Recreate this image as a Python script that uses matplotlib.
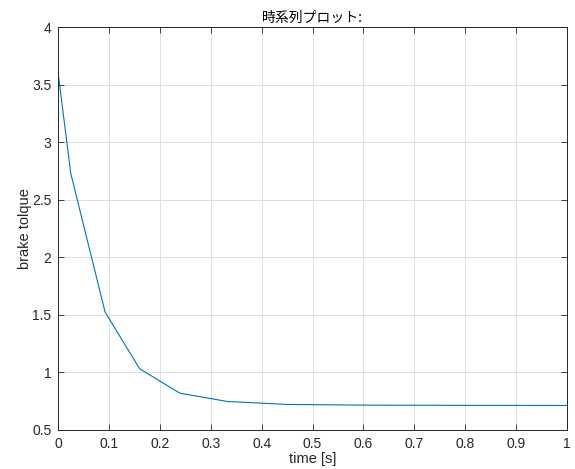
import matplotlib
matplotlib.use("Agg")
import matplotlib.pyplot as plt

# time [s] and brake torque
t = [0.0, 0.0245, 0.092, 0.16, 0.239, 0.332, 0.45, 0.6, 0.8, 1.0]
torque = [3.59, 2.73, 1.525, 1.032, 0.82, 0.748, 0.722, 0.716, 0.714, 0.713]

x_ticks = [0, 0.1, 0.2, 0.3, 0.4, 0.5, 0.6, 0.7, 0.8, 0.9, 1]
x_labels = ["0", "0.1", "0.2", "0.3", "0.4", "0.5", "0.6", "0.7", "0.8", "0.9", "1"]
y_ticks = [0.5, 1, 1.5, 2, 2.5, 3, 3.5, 4]
y_labels = ["0.5", "1", "1.5", "2", "2.5", "3", "3.5", "4"]

plt.rcParams['font.family'] = ['Liberation Sans', 'Noto Sans CJK JP', 'DejaVu Sans']
axcol = "#262626"

fig = plt.figure(figsize=(5.75, 4.69), dpi=100)
ax = fig.add_axes([0.1014, 0.0832, 0.8842, 0.8586])
ax.plot(t, torque, color="#0072BD", lw=0.8)

ax.set_xlim(0, 1)
ax.set_ylim(0.5, 4)
ax.set_xticks(x_ticks)
ax.set_xticklabels(x_labels)
ax.set_yticks(y_ticks)
ax.set_yticklabels(y_labels)
ax.tick_params(direction="in", top=True, right=True, length=4, width=0.6,
               colors=axcol, labelsize=10, pad=5)
for s in ax.spines.values():
    s.set_color(axcol)
    s.set_linewidth(0.7)
ax.grid(True, color="#e0e0e0", lw=0.7)
ax.set_axisbelow(True)

ax.set_title("時系列プロット:", fontsize=10, color="black", pad=4,
             family=['Noto Sans CJK JP', 'Liberation Sans'])
ax.set_xlabel("time [s]", fontsize=10.5, color=axcol, labelpad=1)
ax.set_ylabel("brake tolque", fontsize=10.5, color=axcol, labelpad=0)

fig.savefig("out.png", dpi=100)
